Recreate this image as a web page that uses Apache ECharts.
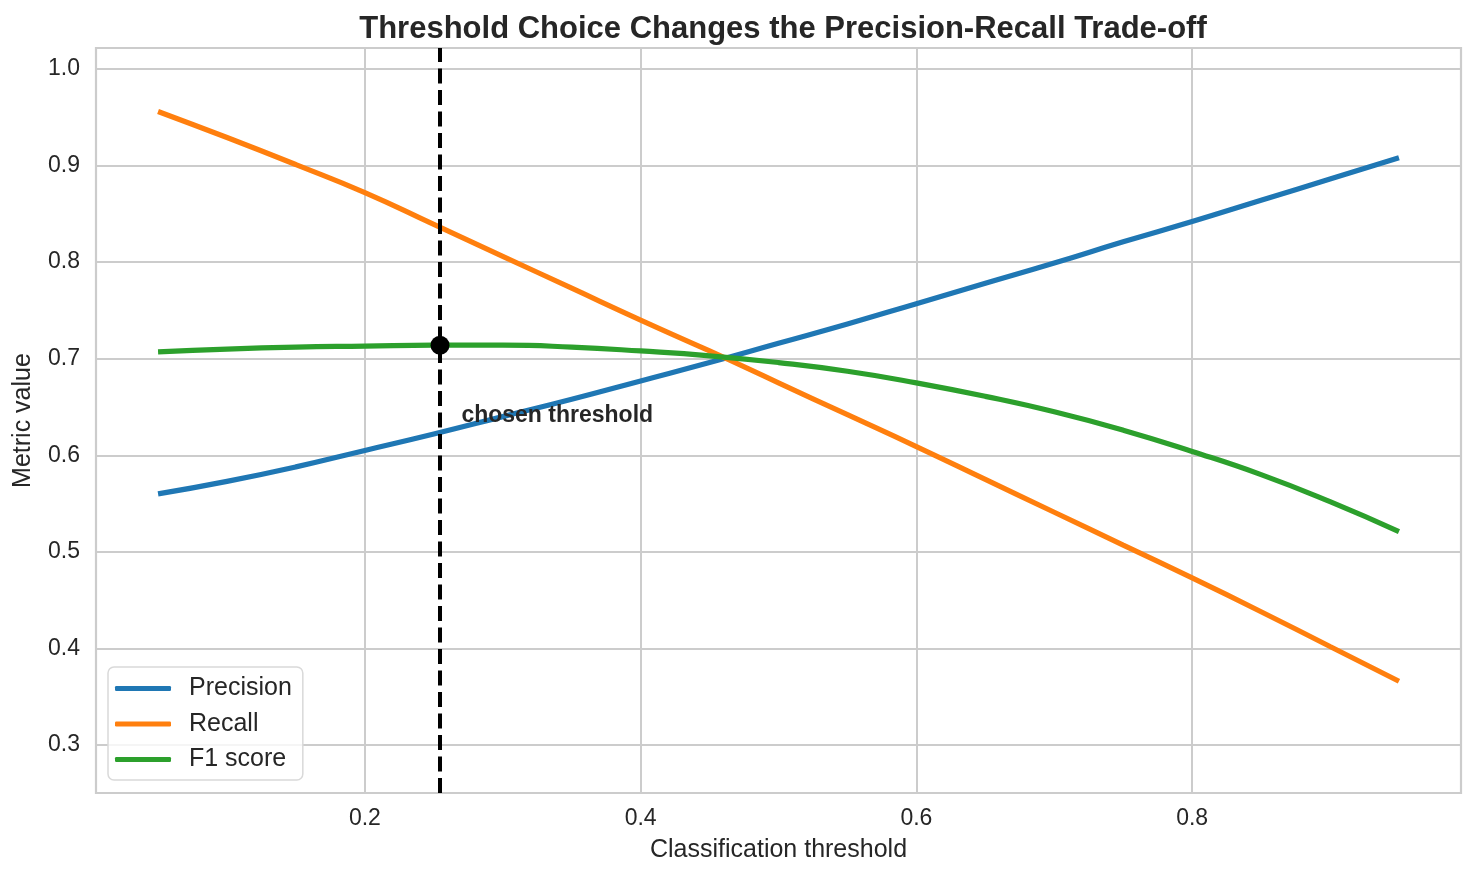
<!DOCTYPE html>
<html>
<head>
<meta charset="utf-8">
<script src="https://cdn.jsdelivr.net/npm/echarts@6/dist/echarts.min.js"></script>
<style>
html,body{margin:0;padding:0;background:#fff;}
#c{width:1476px;height:877px;}
</style>
</head>
<body>
<div id="c"></div>
<script>
const thresholds = [0.05,0.10,0.15,0.20,0.25,0.30,0.35,0.40,0.45,0.50,0.55,0.60,0.65,0.70,0.75,0.80,0.85,0.90,0.95];
const precision = [0.560,0.573,0.588,0.605,0.622,0.640,0.658,0.677,0.696,0.716,0.736,0.757,0.778,0.799,0.821,0.842,0.864,0.886,0.908];
const recall    = [0.956,0.929,0.901,0.872,0.839,0.806,0.773,0.740,0.708,0.675,0.642,0.609,0.575,0.541,0.507,0.473,0.438,0.402,0.366];
const f1score   = [0.707,0.710,0.712,0.713,0.714,0.714,0.712,0.708,0.703,0.696,0.687,0.675,0.661,0.645,0.626,0.604,0.580,0.552,0.521];
const chosenThreshold = 0.2545;
const chosenF1 = 0.714;
const annotationPos = [0.270, 0.641];
const xTicks = [0.2,0.4,0.6,0.8];
const yTicks = [0.3,0.4,0.5,0.6,0.7,0.8,0.9,1.0];
const xRange = [0.005, 0.995];
const yRange = [0.2503, 1.0217];

const pairs = arr => thresholds.map((t,i)=>[t,arr[i]]);
const font = '"Liberation Sans", Arial, sans-serif';
const txt = '#262626';

const chart = echarts.init(document.getElementById('c'));
chart.setOption({
  animation:false,
  backgroundColor:'#fff',
  title:{
    text:'Threshold Choice Changes the Precision-Recall Trade-off',
    left:778, top:9, textAlign:'center',
    textStyle:{fontFamily:font,fontSize:31,fontWeight:'bold',color:txt}
  },
  grid:{left:96,right:15,top:48,bottom:84,show:true,borderColor:'#cccccc',borderWidth:2.2,containLabel:false},
  legend:{
    left:108, top:667, orient:'vertical',
    itemWidth:56, itemHeight:5, itemGap:10.5,
    icon:'roundRect',
    padding:[9,11,8,7],
    borderColor:'#d9d9d9', borderWidth:1.5, borderRadius:6,
    backgroundColor:'rgba(255,255,255,0.8)',
    textStyle:{fontFamily:font,fontSize:25,lineHeight:25,color:txt,padding:[0,0,0,13]},
    data:['Precision','Recall','F1 score']
  },
  xAxis:{
    type:'value', min:xRange[0], max:xRange[1],
    name:'Classification threshold', nameLocation:'middle', nameGap:45,
    nameTextStyle:{fontFamily:font,fontSize:25,color:txt},
    axisLine:{show:false}, axisTick:{show:false, customValues:xTicks},
    axisLabel:{customValues:xTicks,fontFamily:font,fontSize:23,color:txt,margin:14,formatter:v=>v.toFixed(1)},
    splitLine:{show:true,lineStyle:{color:'#cccccc',width:2}}
  },
  yAxis:{
    type:'value', min:yRange[0], max:yRange[1],
    name:'Metric value', nameLocation:'middle', nameGap:60, nameRotate:90,
    nameTextStyle:{fontFamily:font,fontSize:25,color:txt},
    axisLine:{show:false}, axisTick:{show:false, customValues:yTicks},
    axisLabel:{customValues:yTicks,fontFamily:font,fontSize:23,color:txt,margin:16,formatter:v=>v.toFixed(1)},
    splitLine:{show:true,lineStyle:{color:'#cccccc',width:2}}
  },
  series:[
    {name:'Precision',type:'line',data:pairs(precision),smooth:true,showSymbol:false,
     lineStyle:{color:'#1f77b4',width:5.2},itemStyle:{color:'#1f77b4'},z:3},
    {name:'Recall',type:'line',data:pairs(recall),smooth:true,showSymbol:false,
     lineStyle:{color:'#ff7f0e',width:5.2},itemStyle:{color:'#ff7f0e'},z:3},
    {name:'F1 score',type:'line',data:pairs(f1score),smooth:true,showSymbol:false,
     lineStyle:{color:'#2ca02c',width:5.2},itemStyle:{color:'#2ca02c'},z:3},
    {name:'threshold line',type:'line',data:[[chosenThreshold,yRange[0]],[chosenThreshold,yRange[1]]],
     showSymbol:false,silent:true,z:4,
     lineStyle:{color:'#000',width:4,type:[15,6.5]}},
    {name:'chosen',type:'scatter',data:[[chosenThreshold,chosenF1]],symbolSize:19,
     itemStyle:{color:'#000',opacity:1},z:5},
    {name:'annot',type:'scatter',data:[annotationPos],symbolSize:0,z:6,
     itemStyle:{opacity:1},
     label:{show:true,position:'right',distance:0,formatter:'chosen threshold',
       fontFamily:font,fontSize:23,fontWeight:'bold',color:txt}}
  ]
});
</script>
</body>
</html>
